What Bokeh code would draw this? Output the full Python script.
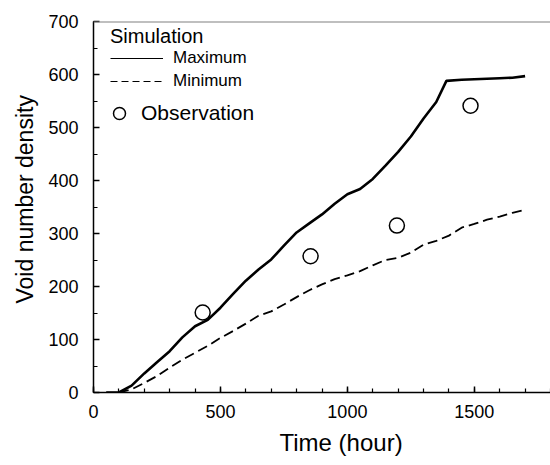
from bokeh.plotting import figure
from bokeh.models import (Range1d, SingleIntervalTicker, Legend, LegendItem,
                          Span, Title)
from bokeh.embed import file_html
from bokeh.resources import INLINE

# ---------------- data ----------------
time_max = [50, 100, 150, 200, 250, 300, 350, 400, 450, 500, 550, 600, 650,
            700, 750, 800, 850, 900, 950, 1000, 1050, 1100, 1150, 1200, 1250,
            1300, 1350, 1390, 1450, 1500, 1550, 1600, 1650, 1700]
density_max = [0, 0, 13, 36, 57, 78, 104, 125, 137, 160, 186, 211, 232,
               251, 277, 302, 319, 336, 356, 374, 384, 403, 428, 454, 483,
               517, 548, 588, 590, 591, 592, 593, 594, 597]

time_min = [100, 150, 200, 250, 300, 350, 400, 450, 500, 550, 600, 650, 700,
            750, 800, 850, 900, 950, 1000, 1050, 1100, 1150, 1200, 1250, 1300,
            1350, 1400, 1450, 1500, 1550, 1600, 1650, 1700]
density_min = [0, 6, 18, 31, 47, 62, 75, 88, 103, 116, 130, 145, 153,
               166, 180, 193, 204, 214, 221, 229, 240, 250, 254, 264, 279,
               286, 296, 311, 318, 326, 332, 339, 345]

obs_time = [430, 855, 1195, 1485]
obs_density = [151, 257, 315, 541]

x_limits = (0, 1800)
y_limits = (0, 700)
x_tick_step = 500
y_tick_step = 100

x_label = "Time (hour)"
y_label = "Void number density"
legend_title = "Simulation"
series_names = ["Maximum", "Minimum", "Observation"]

FONT = "Liberation Sans"

# ---------------- figure ----------------
p = figure(width=550, height=465, output_backend="svg", toolbar_location=None,
           x_range=Range1d(*x_limits), y_range=Range1d(*y_limits),
           min_border_left=93, min_border_right=0, min_border_top=21,
           min_border_bottom=73)
p.outline_line_color = None
p.grid.visible = False
p.background_fill_color = "white"
p.border_fill_color = "white"

p.xaxis.ticker = SingleIntervalTicker(interval=x_tick_step, num_minor_ticks=5)
p.yaxis.ticker = SingleIntervalTicker(interval=y_tick_step, num_minor_ticks=2)

for ax in (p.xaxis, p.yaxis):
    ax.axis_line_color = "black"
    ax.axis_line_width = 1.5
    ax.major_tick_line_color = "black"
    ax.major_tick_line_width = 1.5
    ax.minor_tick_line_color = "black"
    ax.minor_tick_line_width = 1.2
    ax.major_tick_in = 6
    ax.major_tick_out = 0
    ax.minor_tick_in = 4
    ax.minor_tick_out = 0
    ax.major_label_text_font = FONT
    ax.major_label_text_font_size = "18px"
    ax.major_label_text_color = "black"

p.xaxis.major_label_standoff = 12
p.yaxis.major_label_standoff = 15

# top border line (grey)
p.add_layout(Span(location=y_limits[1], dimension="width",
                  line_color="#808080", line_width=2))

# ---------------- data glyphs ----------------
r_max = p.line(time_max, density_max, line_color="black", line_width=2.6)
r_min = p.line(time_min, density_min, line_color="black", line_width=1.8,
               line_dash="10 5")
r_obs = p.scatter(obs_time, obs_density, marker="circle", size=15,
                  fill_color="white", line_color="black", line_width=1.5)

# thin proxies (single point, draws nothing) for the legend lines
leg_max = p.line(time_max[:1], density_max[:1], line_color="black",
                 line_width=1)
leg_min = p.line(time_min[:1], density_min[:1], line_color="black",
                 line_width=1, line_dash="7 4")

legend1 = Legend(
    items=[LegendItem(label=series_names[0], renderers=[leg_max]),
           LegendItem(label=series_names[1], renderers=[leg_min])],
    title=legend_title, location=(17, 301), margin=0, padding=0,
    title_text_font=FONT, title_text_font_size="20px",
    title_text_font_style="normal", title_text_color="black",
    title_standoff=0,
    label_text_font=FONT, label_text_font_size="17px",
    label_text_color="black",
    glyph_width=53, glyph_height=20, label_height=20, label_standoff=10,
    spacing=3, border_line_color=None, background_fill_alpha=0)
legend2 = Legend(
    items=[LegendItem(label=series_names[2], renderers=[r_obs])],
    location=(11, 264), margin=0, padding=0,
    label_text_font=FONT, label_text_font_size="21px",
    label_text_color="black",
    glyph_width=30, glyph_height=30, label_height=30, label_standoff=7,
    border_line_color=None, background_fill_alpha=0)
p.add_layout(legend1)
p.add_layout(legend2)

# ---------------- axis titles ----------------
p.add_layout(Title(text=x_label, align="left", offset=186,
                   text_font=FONT, text_font_size="24px",
                   text_font_style="normal", text_color="black",
                   standoff=12), "below")
p.add_layout(Title(text=y_label, align="left", offset=89,
                   text_font=FONT, text_font_size="23px",
                   text_font_style="normal", text_color="black",
                   standoff=15), "left")

open("out.html", "w").write(file_html(p, INLINE))
